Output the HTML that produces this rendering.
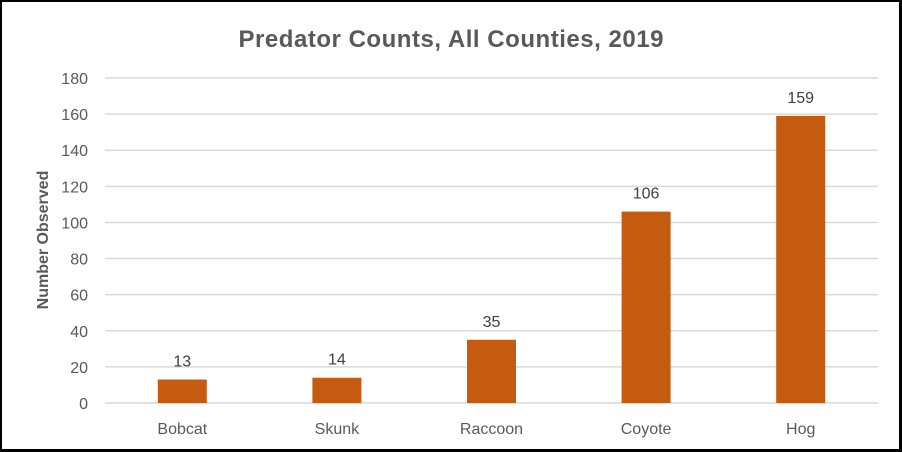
<!DOCTYPE html>
<html><head><meta charset="utf-8"><style>
html,body{margin:0;padding:0;background:#fff}
#wrap{position:relative;width:902px;height:452px;box-sizing:border-box;border:2px solid #000;border-right-width:3px;border-bottom-width:3px;background:#fff;overflow:hidden}
svg text{font-family:"Liberation Sans",sans-serif}
</style></head><body>
<div id="wrap">
<svg id="chart" width="902" height="452" style="position:absolute;left:-2px;top:-2px">
<text x="451" y="47" text-anchor="middle" font-size="24" font-weight="bold" fill="#595959" textLength="425">Predator Counts, All Counties, 2019</text>
<text transform="translate(48,240) rotate(-90)" text-anchor="middle" font-size="16" font-weight="bold" fill="#595959">Number Observed</text>
<g id="grid"></g><g id="bars"></g>
</svg>
</div>
<script>
const categories=["Bobcat","Skunk","Raccoon","Coyote","Hog"];
const values=[13,14,35,106,159];
const ticks=[0,20,40,60,80,100,120,140,160,180];
const L=105,R=878,Y0=403,Ymax=78,maxV=180;
const y=v=>Y0-(v/maxV)*(Y0-Ymax);
const band=(R-L)/categories.length;
const x=i=>L+band*(i+0.5);
const ns="http://www.w3.org/2000/svg";
const grid=document.getElementById('grid'),bars=document.getElementById('bars');
ticks.forEach(t=>{
 const l=document.createElementNS(ns,'line');
 l.setAttribute('x1',L);l.setAttribute('x2',R);l.setAttribute('y1',y(t));l.setAttribute('y2',y(t));
 l.setAttribute('stroke','#d9d9d9');l.setAttribute('stroke-width','1.5');
 
 
 grid.appendChild(l);
 const tx=document.createElementNS(ns,'text');
 tx.setAttribute('x',88);tx.setAttribute('y',y(t)+6);tx.setAttribute('text-anchor','end');
 tx.setAttribute('font-size','16');tx.setAttribute('fill','#595959');tx.textContent=t;
 
 
 grid.appendChild(tx);
});
const bw=49;
categories.forEach((c,i)=>{
 const r=document.createElementNS(ns,'rect');
 r.setAttribute('x',x(i)-bw/2);r.setAttribute('width',bw);
 r.setAttribute('y',y(values[i]));r.setAttribute('height',Y0-y(values[i]));
 r.setAttribute('fill','#c55a11');
 
 
 bars.appendChild(r);
 const v=document.createElementNS(ns,'text');
 v.setAttribute('x',x(i));v.setAttribute('y',y(values[i])-13);v.setAttribute('text-anchor','middle');
 v.setAttribute('font-size','16');v.setAttribute('fill','#404040');v.textContent=values[i];
 
 
 bars.appendChild(v);
 const cl=document.createElementNS(ns,'text');
 cl.setAttribute('x',x(i));cl.setAttribute('y',434);cl.setAttribute('text-anchor','middle');
 cl.setAttribute('font-size','16');cl.setAttribute('fill','#595959');cl.textContent=c;
 
 
 bars.appendChild(cl);
});
</script>
</body></html>
